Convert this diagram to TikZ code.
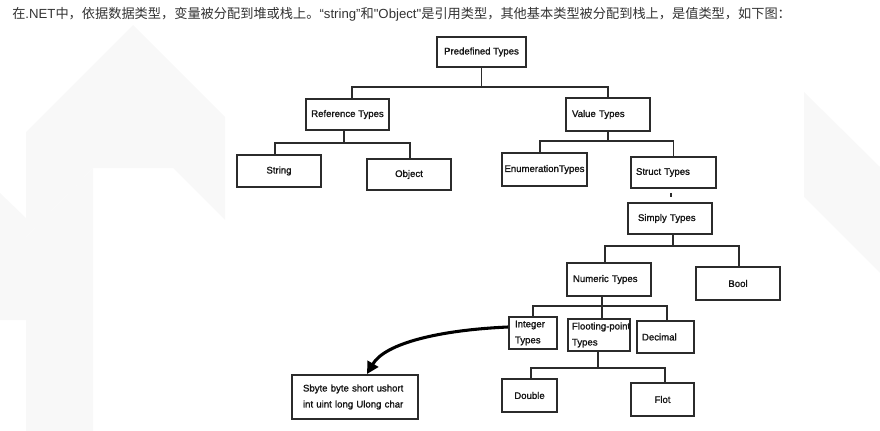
\documentclass[tikz,border=0pt]{standalone}
\usepackage{fontspec}
\newfontfamily\cjkfont{Noto Sans CJK SC}
\newfontfamily\latfont{Liberation Sans}
\newfontfamily\handfont[FakeBold=1.3]{Liberation Sans}
\usetikzlibrary{arrows.meta}
\newdimen\pxu \pxu=0.75pt
\definecolor{linec}{RGB}{43,43,43}
\definecolor{txtc}{RGB}{20,20,20}
\definecolor{titlec}{RGB}{51,51,51}
\definecolor{wmc}{RGB}{248,248,248}
\begin{document}
\begin{tikzpicture}[x=0.75pt,y=-0.75pt,
  box/.style={draw=linec, line width=1.4pt, rectangle, inner sep=0pt,
    font=\handfont\fontsize{7.2}{12}\selectfont, text=txtc},
  lbox/.style={box, align=left, text width=#1\pxu},
  conn/.style={draw=linec, line width=1.1pt},
  arr/.style={draw=black, line width=2.3pt, -{Triangle[length=9pt,width=9pt]}},
  wm/.style={fill=wmc, draw=none}]
\useasboundingbox (0,0) rectangle (880,431);
% faint background watermark shapes
\fill[wm] (26,132) -- (133,25) -- (225,117) -- (225,220) -- (173,168) -- (93,168) -- (26,237) -- cycle;
\fill[wm] (26,237) -- (93,168) -- (93,431) -- (26,431) -- cycle;
\fill[wm] (0,193) -- (26,218) -- (26,320) -- (0,320) -- cycle;
\fill[wm] (804,92) -- (880,167) -- (880,273) -- (804,197) -- cycle;
% title
\node[anchor=west, inner sep=0pt, font=\cjkfont\fontsize{9.9}{12}\selectfont, text=titlec] (title) at (12,14)
  {在{\latfont .NET}中，依据数据类型，变量被分配到堆或栈上。{\latfont “string”}和{\latfont "Object"}是引用类型，其他基本类型被分配到栈上，是值类型，如下图：};
% boxes
\node[box, minimum width=89\pxu, minimum height=30\pxu] (pre) at (481.5,52) {Predefined Types};
\node[box, minimum width=83\pxu, minimum height=31\pxu] (ref) at (347.5,114.5) {Reference Types};
\node[lbox=72, inner xsep=6\pxu, minimum width=84\pxu, minimum height=33\pxu] (val) at (608,114.5) {Value Types};
\node[box, minimum width=84\pxu, minimum height=32\pxu] (str) at (279,171) {String};
\node[box, minimum width=84\pxu, minimum height=31\pxu] (obj) at (409,174.5) {Object};
\node[box, minimum width=85\pxu, minimum height=33\pxu] (enum) at (544.5,169.5) {EnumerationTypes};
\node[lbox=75, inner xsep=5\pxu, minimum width=85\pxu, minimum height=31\pxu] (struct) at (673.5,172.5) {Struct Types};
\node[lbox=64, inner xsep=10\pxu, minimum width=84\pxu, minimum height=31\pxu] (simply) at (670,218.5) {Simply Types};
\node[lbox=72, inner xsep=6\pxu, minimum width=84\pxu, minimum height=33\pxu] (numeric) at (609,279.5) {Numeric Types};
\node[box, minimum width=84\pxu, minimum height=33\pxu] (bool) at (738,283.5) {Bool};
\node[lbox=36, inner xsep=6\pxu, minimum width=48\pxu, minimum height=32\pxu] (integer) at (533,333) {Integer\\Types};
\node[lbox=54, inner xsep=4\pxu, minimum width=62\pxu, minimum height=32\pxu] (float) at (599,335) {\mbox{Flooting-point}\\Types};
\node[lbox=47, inner xsep=5\pxu, minimum width=57\pxu, minimum height=32\pxu] (decimal) at (665.5,337) {Decimal};
\node[box, minimum width=55\pxu, minimum height=33\pxu] (double) at (529.5,395.5) {Double};
\node[box, minimum width=63\pxu, minimum height=33\pxu] (flot) at (662.5,399.5) {Flot};
\node[lbox=104, inner xsep=11\pxu, minimum width=126\pxu, minimum height=44\pxu] (sbyte) at (355,397) {Sbyte byte short ushort\\int uint long Ulong char};
% connectors
\draw[conn] (pre.south) -- ++(0,19) -| ([xshift=4.5\pxu]ref.north);
\draw[conn] (pre.south) -- ++(0,19) -| (val.north);
\draw[conn] ([xshift=-3.5\pxu]ref.south) -- ++(0,12) -| ([xshift=-4\pxu]str.north);
\draw[conn] ([xshift=-3.5\pxu]ref.south) -- ++(0,12) -| ([xshift=1\pxu]obj.north);
\draw[conn] (val.south) -- ++(0,9) -| ([xshift=-4.5\pxu]enum.north);
\draw[conn] (val.south) -- ++(0,9) -| (struct.north);
\draw[conn, shorten <=4\pxu, shorten >=5\pxu] ([xshift=-2.5\pxu]struct.south) -- ([xshift=1\pxu]simply.north);
\draw[conn] ([xshift=3\pxu]simply.south) -- ++(0,11) -| ([xshift=-4\pxu]numeric.north);
\draw[conn] ([xshift=3\pxu]simply.south) -- ++(0,11) -| ([xshift=1\pxu]bool.north);
\draw[conn] ([xshift=-7\pxu]numeric.south) -- ++(0,9) -| (integer.north);
\draw[conn] ([xshift=-7\pxu]numeric.south) -- ++(0,9) -| ([xshift=3\pxu]float.north);
\draw[conn] ([xshift=-7\pxu]numeric.south) -- ++(0,9) -| ([xshift=1.5\pxu]decimal.north);
\draw[conn] ([xshift=-1\pxu]float.south) -- ++(0,16) -| ([xshift=1.5\pxu]double.north);
\draw[conn] ([xshift=-1\pxu]float.south) -- ++(0,16) -| ([xshift=2.5\pxu]flot.north);
% arrow
\draw[arr] ([yshift=6\pxu]integer.west) .. controls +(-68,3) and +(18,-31) .. ([xshift=12\pxu]sbyte.north);
\end{tikzpicture}
\end{document}
